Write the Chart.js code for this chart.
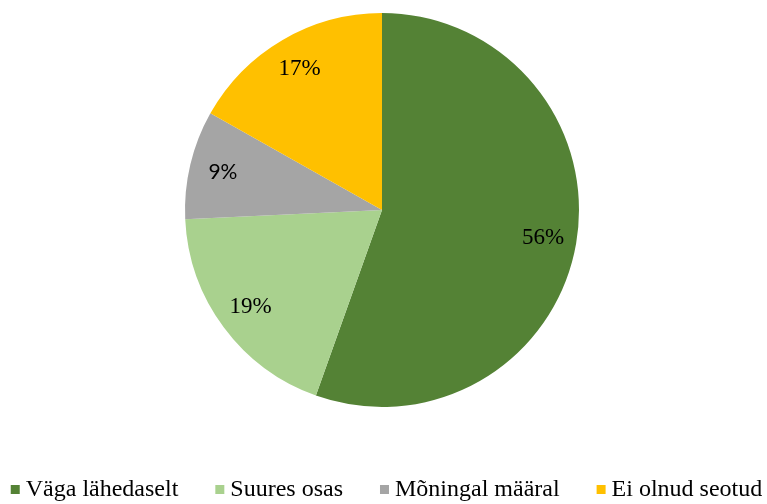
<!DOCTYPE html>
<html><head><meta charset="utf-8">
<script src="https://cdn.jsdelivr.net/npm/chart.js@4"></script>
<style>html,body{margin:0;padding:0;background:#fff;} canvas{display:block;}</style>
</head><body>
<canvas id="c" width="767" height="504"></canvas>
<script>
const categories = ['Väga lähedaselt', 'Suures osas', 'Mõningal määral', 'Ei olnud seotud'];
const shares = [56, 19, 9, 17];
const shareLabels = ['56%', '19%', '9%', '17%'];
const sliceColors = ['#548235', '#A9D18E', '#A5A5A5', '#FFC000'];

const sliceLabelPlugin = {
  id: 'sliceLabels',
  afterDatasetsDraw(chart) {
    const ctx = chart.ctx;
    const meta = chart.getDatasetMeta(0);
    meta.data.forEach((arc, i) => {
      const p = arc.getProps(['x', 'y', 'startAngle', 'endAngle', 'outerRadius'], true);
      const mid = (p.startAngle + p.endAngle) / 2;
      const r = p.outerRadius * 0.83;
      ctx.save();
      ctx.font = i === 2 ? '21px Lato' : '23px "Liberation Serif"';
      ctx.fillStyle = '#000';
      ctx.textAlign = 'center';
      ctx.textBaseline = 'middle';
      ctx.fillText(shareLabels[i], p.x + Math.cos(mid) * r, p.y + Math.sin(mid) * r);
      ctx.restore();
    });
  }
};

const bottomLegendPlugin = {
  id: 'bottomLegend',
  afterDraw(chart) {
    const ctx = chart.ctx;
    ctx.save();
    ctx.font = '24px "Liberation Serif"';
    const box = 9, textGap = 15, itemGap = 37;
    const widths = categories.map(t => ctx.measureText(t).width);
    const total = widths.reduce((s, w) => s + textGap + w, 0) + itemGap * (categories.length - 1);
    let x = chart.width / 2 + 3 - total / 2;
    const baseY = 496;
    categories.forEach((t, i) => {
      ctx.fillStyle = sliceColors[i];
      ctx.fillRect(x, baseY - 11, box, box);
      ctx.fillStyle = '#000';
      ctx.textBaseline = 'alphabetic';
      ctx.textAlign = 'left';
      ctx.fillText(t, x + textGap, baseY);
      x += textGap + widths[i] + itemGap;
    });
    ctx.restore();
  }
};

new Chart(document.getElementById('c'), {
  type: 'pie',
  data: {
    labels: categories,
    datasets: [{
      data: shares,
      backgroundColor: sliceColors,
      borderWidth: 0
    }]
  },
  options: {
    responsive: false,
    animation: false,
    layout: { padding: { top: 13, bottom: 97, left: 0, right: 3 } },
    plugins: {
      legend: { display: false },
      tooltip: { enabled: false }
    }
  },
  plugins: [sliceLabelPlugin, bottomLegendPlugin]
});
</script>
</body></html>
